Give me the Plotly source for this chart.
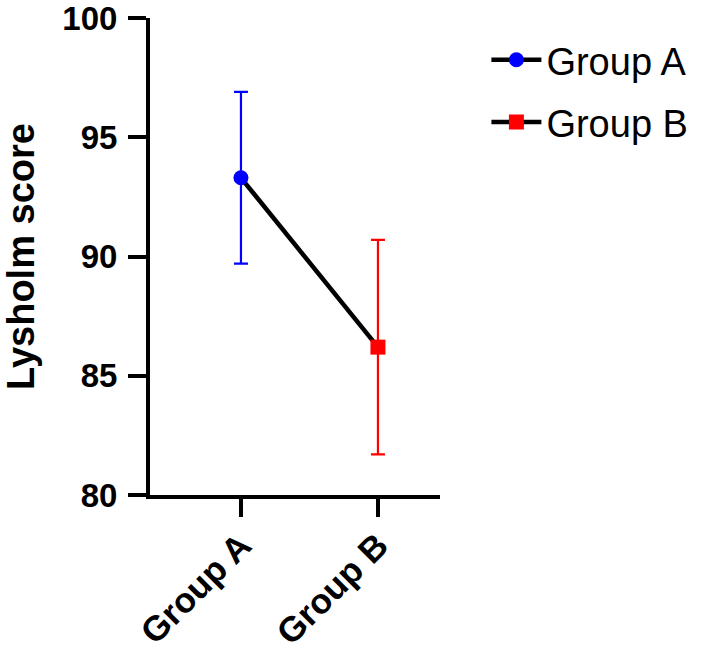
import plotly.graph_objects as go

categories = ["Group A", "Group B"]
means = [93.3, 86.2]
sds = [3.6, 4.5]
colors = ["#0000FF", "#FF0000"]
symbols = ["circle", "square"]
y_ticks = [80, 85, 90, 95, 100]

fig = go.Figure()

# connecting line
fig.add_trace(go.Scatter(x=categories, y=means, mode="lines",
                         line=dict(color="black", width=4.5), showlegend=False, hoverinfo="skip"))

for cat, m, s, c, sym in zip(categories, means, sds, colors, symbols):
    fig.add_trace(go.Scatter(
        x=[cat], y=[m], name=cat, legendgroup=cat, mode="lines+markers",
        line=dict(color="black", width=4.5),
        marker=dict(color=c, symbol=sym, size=15),
        error_y=dict(type="data", array=[s], color=c, thickness=2.2, width=7),
    ))

font_family = "Liberation Sans, Arial, sans-serif"
fig.update_layout(
    width=709, height=656,
    margin=dict(l=150, r=269, t=18, b=161),
    plot_bgcolor="white", paper_bgcolor="white",
    font=dict(family=font_family, color="black"),
    legend=dict(x=1.16, y=0.978, xanchor="left", yanchor="top",
                font=dict(size=38, family=font_family, color="black"),
                itemwidth=50, tracegroupgap=10, bgcolor="rgba(0,0,0,0)"),
    xaxis=dict(type="category", range=[-0.664, 1.453], showline=True, linecolor="black",
               linewidth=4, ticks="outside", ticklen=18, tickwidth=4, tickcolor="black",
               tickangle=-45, showgrid=False, zeroline=False, automargin=False,
               ticklabelstandoff=-6, ticklabeloverflow="allow",
               tickfont=dict(size=35, family=font_family, color="black", weight="bold")),
    yaxis=dict(range=[80, 100], tickvals=y_ticks, showline=True, linecolor="black",
               linewidth=4, ticks="outside", ticklen=18, tickwidth=4, tickcolor="black",
               showgrid=False, zeroline=False, automargin=False, ticklabelstandoff=4,
               ticklabeloverflow="allow",
               tickfont=dict(size=33, color="black", weight="bold"),
               title=dict(text="Lysholm score", font=dict(size=38, color="black", weight="bold"),
                          standoff=30)),
)

fig.write_html("out.html", config={"displayModeBar": False},
               post_script="document.body.style.margin='0px';")
